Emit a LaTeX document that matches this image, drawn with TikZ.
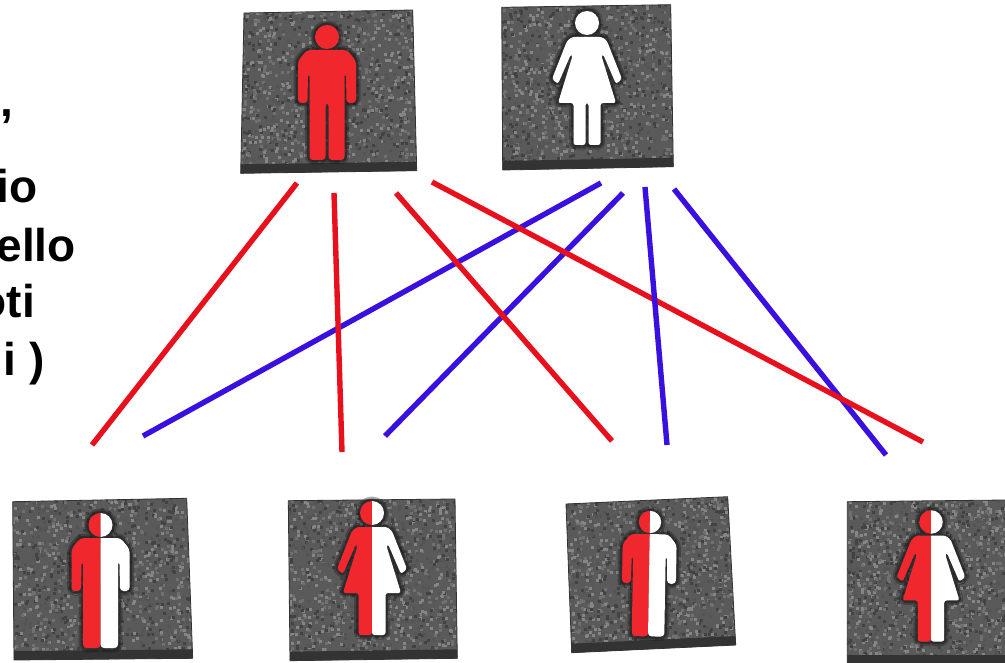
\documentclass[tikz,border=0pt]{standalone}
\usepackage{fontspec}
\setmainfont{Liberation Sans}
\definecolor{fred}{HTML}{F0282E}
\definecolor{lred}{HTML}{E8101C}
\definecolor{lblue}{HTML}{3A10E0}
\definecolor{sqbase}{HTML}{5A5A5A}
\definecolor{sqdark}{HTML}{333333}
\tikzset{
  redline/.style={draw=lred,line width=5.4pt},
  blueline/.style={draw=lblue,line width=5.4pt},
  caption/.style={font=\fontsize{46}{50}\selectfont\bfseries,anchor=base east,inner sep=0pt,text=black},
  dot0/.style={fill=black!74},
  dot1/.style={fill=black!67},
  dot2/.style={fill=black!56},
  dot3/.style={fill=black!48},
}
\newcommand{\manshape}[1]{%
  (0,0) circle (12)
  [rounded corners=3.5pt]
  (-20,13) -- (20,13) -- (29,24) -- (29,66) -- (19.5,66) -- (19,36) -- (17.5,36) -- (17.5,123) -- (#1,123) -- (#1,66) -- (-#1,66) -- (-#1,123) -- (-17.5,123) -- (-17.5,36) -- (-19,36) -- (-19.5,66) -- (-29,66) -- (-29,24) -- cycle}
\newcommand{\womanshape}[1]{%
  (0,0) circle (12)
  [rounded corners=2.5pt]
  (-15,14) -- (15,14) -- (20,18) -- (35,56) -- (29,61) -- (16,31) -- (14.5,33) -- (29,80) -- (13.5,80) -- (13.5,122) -- (#1,122) -- (#1,80) -- (-#1,80) -- (-#1,122) -- (-13.5,122) -- (-13.5,80) -- (-29,80) -- (-14.5,33) -- (-16,31) -- (-29,61) -- (-35,56) -- (-20,18) -- cycle}
% \panel{a}{b}{c}{d}{x0}{y0}{w}{h}
\newcommand{\panel}[8]{%
  \begin{scope}
    \clip (#1) -- (#2) -- (#3) -- (#4) -- cycle;
    \fill[sqbase] (#5,#6) rectangle ++(#7,#8);
    \foreach \i in {1,...,1300}{
      \pgfmathrandominteger{\dotc}{0}{3}
      \pgfmathsetmacro\dotx{#5+rnd*#7}
      \pgfmathsetmacro\doty{#6+rnd*#8}
      \fill[dot\dotc] (\dotx,\doty) rectangle ++(3,3);
    }
    \fill[sqdark] ($(#4)+(0,-9)$) -- ($(#3)+(0,-9)$) -- (#3) -- (#4) -- cycle;
  \end{scope}
  \draw[sqdark,line width=.8pt,line join=round] (#1) -- (#2) -- (#3) -- (#4) -- cycle;
}
% \person{shape}{cx}{cy}{scale}{rot}{left}{right}{gap}
\newcommand{\person}[8]{%
  \begin{scope}[shift={(#2,#3)},rotate=#5,scale=#4]
    \draw[black!90,line width=9pt,opacity=.35,line join=round] #1{#8};
    \draw[black!90,line width=5pt,opacity=.5,line join=round] #1{#8};
    \begin{scope}
      \clip (-60,-30) rectangle (0,140);
      \fill[#6] #1{#8};
    \end{scope}
    \begin{scope}
      \clip (0,-30) rectangle (60,140);
      \fill[#7] #1{#8};
    \end{scope}
  \end{scope}
}
\usetikzlibrary{calc}
\begin{document}
\begin{tikzpicture}[x=1pt,y=-1pt]
\useasboundingbox (0,0) rectangle (1005,663);
\fill[white] (0,0) rectangle (1005,663);
\pgfmathsetseed{4242}
% text
\node[caption] (t1) at (13,117) {,};
\node[caption] (t2) at (38,203) {io};
\node[caption] (t3) at (76,262) {ello};
\node[caption] (t4) at (35,318) {oti};
\node[caption] (t5) at (45,375) {i )};
% panels
\panel{244,13}{412.7,10}{416.7,170.7}{240.7,173.3}{240}{9}{178}{166}
\panel{501.7,7.3}{670.7,4.7}{673.3,166.7}{502.7,170}{501}{4}{174}{167}
\panel{12.7,501.7}{186.7,498.3}{192.7,658.3}{14,660}{12}{497}{182}{164}
\panel{288.3,500.7}{455,499}{457.3,658.3}{290,660.7}{287}{498}{172}{164}
\panel{566,504}{727.7,496.7}{735.7,645}{571.7,652.7}{565}{495}{172}{159}
\panel{847.3,501.7}{1006,500}{1006,664}{847.3,664}{847}{499}{160}{165}
% figures
\person{\manshape}{327}{37}{1}{0}{fred}{fred}{1.5}
\person{\womanshape}{587}{23}{1}{0}{white}{white}{1.5}
\person{\manshape}{100.5}{525}{1}{0}{fred}{white}{0}
\person{\womanshape}{372}{513}{1}{0}{fred}{white}{0}
\person{\manshape}{650}{522}{.93}{-1}{fred}{white}{0}
\person{\womanshape}{931}{522}{.98}{0}{fred}{white}{0}
% connector ends
\coordinate (r1a) at (297,183); \coordinate (r1b) at (92,445);
\coordinate (r2a) at (334,193); \coordinate (r2b) at (342,452);
\coordinate (r3a) at (396,193); \coordinate (r3b) at (612,441);
\coordinate (r4a) at (432,182); \coordinate (r4b) at (923,442);
\coordinate (b1a) at (601,183); \coordinate (b1b) at (143,436);
\coordinate (b2a) at (623,193); \coordinate (b2b) at (385,436);
\coordinate (b3a) at (645,187); \coordinate (b3b) at (667,445);
\coordinate (b4a) at (674,189); \coordinate (b4b) at (886,455);
\draw[blueline] (b1a) -- (b1b);
\draw[blueline] (b2a) -- (b2b);
\draw[redline] (r1a) -- (r1b);
\draw[redline] (r2a) -- (r2b);
\draw[redline] (r3a) -- (r3b);
\draw[blueline] (b4a) -- (b4b);
\draw[redline] (r4a) -- (r4b);
\draw[blueline] (b3a) -- (b3b);
\end{tikzpicture}
\end{document}
